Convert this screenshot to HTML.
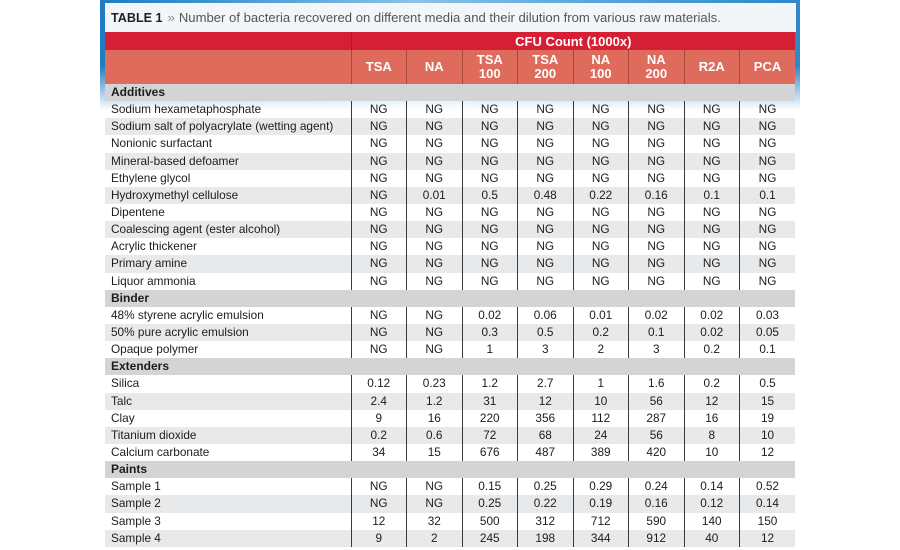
<!DOCTYPE html>
<html>
<head>
<meta charset="utf-8">
<style>
  html,body{margin:0;padding:0;background:#ffffff;}
  body{width:900px;height:550px;position:relative;overflow:hidden;font-family:"Liberation Sans",sans-serif;}
  .frame{position:absolute;left:100px;top:0;width:700px;height:110px;
    background:linear-gradient(180deg,rgba(255,255,255,0) 0%,rgba(255,255,255,0) 60%,#ffffff 100%),
               linear-gradient(90deg,#1f7cc0 0%,#4a9ad3 20%,#8cc2e6 45%,#5aa6da 70%,#2f88c8 100%);}
  .title{position:absolute;left:105px;top:3px;width:691px;height:29px;background:#f3f6f9;
    font-size:13.1px;line-height:29px;color:#555;white-space:nowrap;}
  .title b{color:#231f20;margin-left:6px;font-size:12.6px;}
  .title .raq{color:#8a8a8a;margin:0 4px 0 5px;}
  table{position:absolute;left:105px;top:32px;width:690px;border-collapse:collapse;table-layout:fixed;}
  td{padding:0;margin:0;font-size:11.8px;color:#1e1c1d;text-align:center;vertical-align:middle;white-space:nowrap;overflow:hidden;}
  td.l{text-align:left;padding-left:6px;}
  tr.b td{height:17.15px;line-height:17px;}
  tr.b td.d{border-left:1px solid #3a3a3a;}
  tr.g td{background:#e8e9ea;}
  tr.s td{background:#d3d4d5;font-weight:bold;text-align:left;padding-left:6px;font-size:12px;}
  tr.h1 td{height:18px;background:#d51f34;color:#fff;font-family:"Liberation Sans Narrow","Liberation Sans",sans-serif;font-weight:bold;font-size:13px;font-stretch:condensed;}
  tr.h1 td.first{border-right:1px solid #a8172a;}
  tr.h2 td{height:34px;background:#de6b5c;color:#fff;font-family:"Liberation Sans Narrow","Liberation Sans",sans-serif;font-weight:bold;font-size:13px;line-height:14px;font-stretch:condensed;}
  tr.h2 td.c{border-left:1px solid #a9473c;}
</style>
</head>
<body>
<div class="frame"></div>
<div class="title"><b>TABLE 1</b><span class="raq">»</span>Number of bacteria recovered on different media and their dilution from various raw materials.</div>
<table>
<colgroup><col style="width:246px"><col style="width:55.5px"><col style="width:55.5px"><col style="width:55.5px"><col style="width:55.5px"><col style="width:55.5px"><col style="width:55.5px"><col style="width:55.5px"><col style="width:55.5px"></colgroup>
<tr class="h1"><td class="first"></td><td colspan="8">CFU Count (1000x)</td></tr>
<tr class="h2"><td></td><td class="c">TSA</td><td class="c">NA</td><td class="c">TSA<br>100</td><td class="c">TSA<br>200</td><td class="c">NA<br>100</td><td class="c">NA<br>200</td><td class="c">R2A</td><td class="c">PCA</td></tr>

<tr class="b s"><td colspan="9">Additives</td></tr>
<tr class="b"><td class="l">Sodium hexametaphosphate</td><td class="d">NG</td><td class="d">NG</td><td class="d">NG</td><td class="d">NG</td><td class="d">NG</td><td class="d">NG</td><td class="d">NG</td><td class="d">NG</td></tr>
<tr class="b g"><td class="l">Sodium salt of polyacrylate (wetting agent)</td><td class="d">NG</td><td class="d">NG</td><td class="d">NG</td><td class="d">NG</td><td class="d">NG</td><td class="d">NG</td><td class="d">NG</td><td class="d">NG</td></tr>
<tr class="b"><td class="l">Nonionic surfactant</td><td class="d">NG</td><td class="d">NG</td><td class="d">NG</td><td class="d">NG</td><td class="d">NG</td><td class="d">NG</td><td class="d">NG</td><td class="d">NG</td></tr>
<tr class="b g"><td class="l">Mineral-based defoamer</td><td class="d">NG</td><td class="d">NG</td><td class="d">NG</td><td class="d">NG</td><td class="d">NG</td><td class="d">NG</td><td class="d">NG</td><td class="d">NG</td></tr>
<tr class="b"><td class="l">Ethylene glycol</td><td class="d">NG</td><td class="d">NG</td><td class="d">NG</td><td class="d">NG</td><td class="d">NG</td><td class="d">NG</td><td class="d">NG</td><td class="d">NG</td></tr>
<tr class="b g"><td class="l">Hydroxymethyl cellulose</td><td class="d">NG</td><td class="d">0.01</td><td class="d">0.5</td><td class="d">0.48</td><td class="d">0.22</td><td class="d">0.16</td><td class="d">0.1</td><td class="d">0.1</td></tr>
<tr class="b"><td class="l">Dipentene</td><td class="d">NG</td><td class="d">NG</td><td class="d">NG</td><td class="d">NG</td><td class="d">NG</td><td class="d">NG</td><td class="d">NG</td><td class="d">NG</td></tr>
<tr class="b g"><td class="l">Coalescing agent (ester alcohol)</td><td class="d">NG</td><td class="d">NG</td><td class="d">NG</td><td class="d">NG</td><td class="d">NG</td><td class="d">NG</td><td class="d">NG</td><td class="d">NG</td></tr>
<tr class="b"><td class="l">Acrylic thickener</td><td class="d">NG</td><td class="d">NG</td><td class="d">NG</td><td class="d">NG</td><td class="d">NG</td><td class="d">NG</td><td class="d">NG</td><td class="d">NG</td></tr>
<tr class="b g"><td class="l">Primary amine</td><td class="d">NG</td><td class="d">NG</td><td class="d">NG</td><td class="d">NG</td><td class="d">NG</td><td class="d">NG</td><td class="d">NG</td><td class="d">NG</td></tr>
<tr class="b"><td class="l">Liquor ammonia</td><td class="d">NG</td><td class="d">NG</td><td class="d">NG</td><td class="d">NG</td><td class="d">NG</td><td class="d">NG</td><td class="d">NG</td><td class="d">NG</td></tr>

<tr class="b s"><td colspan="9">Binder</td></tr>
<tr class="b"><td class="l">48% styrene acrylic emulsion</td><td class="d">NG</td><td class="d">NG</td><td class="d">0.02</td><td class="d">0.06</td><td class="d">0.01</td><td class="d">0.02</td><td class="d">0.02</td><td class="d">0.03</td></tr>
<tr class="b g"><td class="l">50% pure acrylic emulsion</td><td class="d">NG</td><td class="d">NG</td><td class="d">0.3</td><td class="d">0.5</td><td class="d">0.2</td><td class="d">0.1</td><td class="d">0.02</td><td class="d">0.05</td></tr>
<tr class="b"><td class="l">Opaque polymer</td><td class="d">NG</td><td class="d">NG</td><td class="d">1</td><td class="d">3</td><td class="d">2</td><td class="d">3</td><td class="d">0.2</td><td class="d">0.1</td></tr>

<tr class="b s"><td colspan="9">Extenders</td></tr>
<tr class="b"><td class="l">Silica</td><td class="d">0.12</td><td class="d">0.23</td><td class="d">1.2</td><td class="d">2.7</td><td class="d">1</td><td class="d">1.6</td><td class="d">0.2</td><td class="d">0.5</td></tr>
<tr class="b g"><td class="l">Talc</td><td class="d">2.4</td><td class="d">1.2</td><td class="d">31</td><td class="d">12</td><td class="d">10</td><td class="d">56</td><td class="d">12</td><td class="d">15</td></tr>
<tr class="b"><td class="l">Clay</td><td class="d">9</td><td class="d">16</td><td class="d">220</td><td class="d">356</td><td class="d">112</td><td class="d">287</td><td class="d">16</td><td class="d">19</td></tr>
<tr class="b g"><td class="l">Titanium dioxide</td><td class="d">0.2</td><td class="d">0.6</td><td class="d">72</td><td class="d">68</td><td class="d">24</td><td class="d">56</td><td class="d">8</td><td class="d">10</td></tr>
<tr class="b"><td class="l">Calcium carbonate</td><td class="d">34</td><td class="d">15</td><td class="d">676</td><td class="d">487</td><td class="d">389</td><td class="d">420</td><td class="d">10</td><td class="d">12</td></tr>

<tr class="b s"><td colspan="9">Paints</td></tr>
<tr class="b"><td class="l">Sample 1</td><td class="d">NG</td><td class="d">NG</td><td class="d">0.15</td><td class="d">0.25</td><td class="d">0.29</td><td class="d">0.24</td><td class="d">0.14</td><td class="d">0.52</td></tr>
<tr class="b g"><td class="l">Sample 2</td><td class="d">NG</td><td class="d">NG</td><td class="d">0.25</td><td class="d">0.22</td><td class="d">0.19</td><td class="d">0.16</td><td class="d">0.12</td><td class="d">0.14</td></tr>
<tr class="b"><td class="l">Sample 3</td><td class="d">12</td><td class="d">32</td><td class="d">500</td><td class="d">312</td><td class="d">712</td><td class="d">590</td><td class="d">140</td><td class="d">150</td></tr>
<tr class="b g"><td class="l">Sample 4</td><td class="d">9</td><td class="d">2</td><td class="d">245</td><td class="d">198</td><td class="d">344</td><td class="d">912</td><td class="d">40</td><td class="d">12</td></tr>
</table>
</body>
</html>
